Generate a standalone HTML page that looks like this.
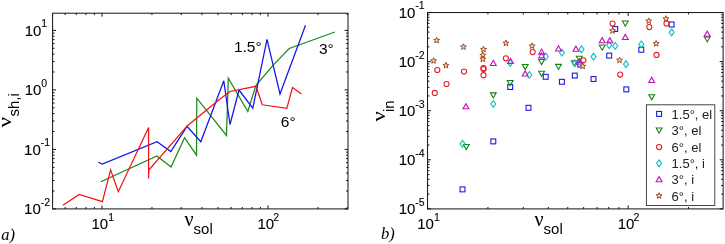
<!DOCTYPE html>
<html><head><meta charset="utf-8"><title>plot</title>
<style>html,body{margin:0;padding:0;background:#fff}svg{display:block}</style></head>
<body>
<svg width="725" height="244" viewBox="0 0 725 244">
<rect width="725" height="244" fill="#fff"/>
<polyline fill="none" stroke="#1a8a1a" stroke-width="1.25" stroke-linejoin="miter" points="100.8,181.8 157.0,156.0 171.0,167.0 184.6,137.7 196.5,155.2 196.8,98.2 226.5,135.5 228.3,78.3 247.8,111.5 256.0,85.4 273.0,65.4 289.2,48.5 334.9,32.0"/>
<polyline fill="none" stroke="#1414f0" stroke-width="1.25" stroke-linejoin="miter" points="98.3,162.2 102.3,164.0 157.0,141.7 170.8,151.5 187.0,126.3 200.8,141.7 223.8,80.8 230.0,124.5 239.0,90.0 252.8,108.2 267.0,39.4 280.0,94.0 305.5,25.3"/>
<polyline fill="none" stroke="#f01414" stroke-width="1.25" stroke-linejoin="miter" points="62.9,205.2 79.2,194.5 102.4,201.6 110.6,169.8 118.3,191.7 148.6,127.5 148.6,178.5 148.8,170.0 187.7,125.4 220.0,99.0 230.0,91.5 256.0,86.3 262.3,104.8 286.8,108.3 292.5,87.5 301.5,94.0"/>
<rect x="52.60" y="13.20" width="295.40" height="195.70" fill="none" stroke="#111" stroke-width="1"/>
<line x1="65.17" y1="208.90" x2="65.17" y2="207.00" stroke="#111" stroke-width="1"/>
<line x1="65.17" y1="13.20" x2="65.17" y2="15.10" stroke="#111" stroke-width="1"/>
<line x1="76.29" y1="208.90" x2="76.29" y2="207.00" stroke="#111" stroke-width="1"/>
<line x1="76.29" y1="13.20" x2="76.29" y2="15.10" stroke="#111" stroke-width="1"/>
<line x1="85.91" y1="208.90" x2="85.91" y2="207.00" stroke="#111" stroke-width="1"/>
<line x1="85.91" y1="13.20" x2="85.91" y2="15.10" stroke="#111" stroke-width="1"/>
<line x1="94.40" y1="208.90" x2="94.40" y2="207.00" stroke="#111" stroke-width="1"/>
<line x1="94.40" y1="13.20" x2="94.40" y2="15.10" stroke="#111" stroke-width="1"/>
<line x1="102.00" y1="208.90" x2="102.00" y2="205.50" stroke="#111" stroke-width="1"/>
<line x1="102.00" y1="13.20" x2="102.00" y2="16.60" stroke="#111" stroke-width="1"/>
<line x1="151.97" y1="208.90" x2="151.97" y2="207.00" stroke="#111" stroke-width="1"/>
<line x1="151.97" y1="13.20" x2="151.97" y2="15.10" stroke="#111" stroke-width="1"/>
<line x1="181.20" y1="208.90" x2="181.20" y2="207.00" stroke="#111" stroke-width="1"/>
<line x1="181.20" y1="13.20" x2="181.20" y2="15.10" stroke="#111" stroke-width="1"/>
<line x1="201.94" y1="208.90" x2="201.94" y2="207.00" stroke="#111" stroke-width="1"/>
<line x1="201.94" y1="13.20" x2="201.94" y2="15.10" stroke="#111" stroke-width="1"/>
<line x1="218.03" y1="208.90" x2="218.03" y2="207.00" stroke="#111" stroke-width="1"/>
<line x1="218.03" y1="13.20" x2="218.03" y2="15.10" stroke="#111" stroke-width="1"/>
<line x1="231.17" y1="208.90" x2="231.17" y2="207.00" stroke="#111" stroke-width="1"/>
<line x1="231.17" y1="13.20" x2="231.17" y2="15.10" stroke="#111" stroke-width="1"/>
<line x1="242.29" y1="208.90" x2="242.29" y2="207.00" stroke="#111" stroke-width="1"/>
<line x1="242.29" y1="13.20" x2="242.29" y2="15.10" stroke="#111" stroke-width="1"/>
<line x1="251.91" y1="208.90" x2="251.91" y2="207.00" stroke="#111" stroke-width="1"/>
<line x1="251.91" y1="13.20" x2="251.91" y2="15.10" stroke="#111" stroke-width="1"/>
<line x1="260.40" y1="208.90" x2="260.40" y2="207.00" stroke="#111" stroke-width="1"/>
<line x1="260.40" y1="13.20" x2="260.40" y2="15.10" stroke="#111" stroke-width="1"/>
<line x1="268.00" y1="208.90" x2="268.00" y2="205.50" stroke="#111" stroke-width="1"/>
<line x1="268.00" y1="13.20" x2="268.00" y2="16.60" stroke="#111" stroke-width="1"/>
<line x1="317.97" y1="208.90" x2="317.97" y2="207.00" stroke="#111" stroke-width="1"/>
<line x1="317.97" y1="13.20" x2="317.97" y2="15.10" stroke="#111" stroke-width="1"/>
<line x1="347.20" y1="208.90" x2="347.20" y2="207.00" stroke="#111" stroke-width="1"/>
<line x1="347.20" y1="13.20" x2="347.20" y2="15.10" stroke="#111" stroke-width="1"/>
<line x1="52.60" y1="208.90" x2="56.00" y2="208.90" stroke="#111" stroke-width="1"/>
<line x1="348.00" y1="208.90" x2="344.60" y2="208.90" stroke="#111" stroke-width="1"/>
<line x1="52.60" y1="190.99" x2="54.50" y2="190.99" stroke="#111" stroke-width="1"/>
<line x1="348.00" y1="190.99" x2="346.10" y2="190.99" stroke="#111" stroke-width="1"/>
<line x1="52.60" y1="180.51" x2="54.50" y2="180.51" stroke="#111" stroke-width="1"/>
<line x1="348.00" y1="180.51" x2="346.10" y2="180.51" stroke="#111" stroke-width="1"/>
<line x1="52.60" y1="173.08" x2="54.50" y2="173.08" stroke="#111" stroke-width="1"/>
<line x1="348.00" y1="173.08" x2="346.10" y2="173.08" stroke="#111" stroke-width="1"/>
<line x1="52.60" y1="167.31" x2="54.50" y2="167.31" stroke="#111" stroke-width="1"/>
<line x1="348.00" y1="167.31" x2="346.10" y2="167.31" stroke="#111" stroke-width="1"/>
<line x1="52.60" y1="162.60" x2="54.50" y2="162.60" stroke="#111" stroke-width="1"/>
<line x1="348.00" y1="162.60" x2="346.10" y2="162.60" stroke="#111" stroke-width="1"/>
<line x1="52.60" y1="158.62" x2="54.50" y2="158.62" stroke="#111" stroke-width="1"/>
<line x1="348.00" y1="158.62" x2="346.10" y2="158.62" stroke="#111" stroke-width="1"/>
<line x1="52.60" y1="155.17" x2="54.50" y2="155.17" stroke="#111" stroke-width="1"/>
<line x1="348.00" y1="155.17" x2="346.10" y2="155.17" stroke="#111" stroke-width="1"/>
<line x1="52.60" y1="152.12" x2="54.50" y2="152.12" stroke="#111" stroke-width="1"/>
<line x1="348.00" y1="152.12" x2="346.10" y2="152.12" stroke="#111" stroke-width="1"/>
<line x1="52.60" y1="149.40" x2="56.00" y2="149.40" stroke="#111" stroke-width="1"/>
<line x1="348.00" y1="149.40" x2="344.60" y2="149.40" stroke="#111" stroke-width="1"/>
<line x1="52.60" y1="131.49" x2="54.50" y2="131.49" stroke="#111" stroke-width="1"/>
<line x1="348.00" y1="131.49" x2="346.10" y2="131.49" stroke="#111" stroke-width="1"/>
<line x1="52.60" y1="121.01" x2="54.50" y2="121.01" stroke="#111" stroke-width="1"/>
<line x1="348.00" y1="121.01" x2="346.10" y2="121.01" stroke="#111" stroke-width="1"/>
<line x1="52.60" y1="113.58" x2="54.50" y2="113.58" stroke="#111" stroke-width="1"/>
<line x1="348.00" y1="113.58" x2="346.10" y2="113.58" stroke="#111" stroke-width="1"/>
<line x1="52.60" y1="107.81" x2="54.50" y2="107.81" stroke="#111" stroke-width="1"/>
<line x1="348.00" y1="107.81" x2="346.10" y2="107.81" stroke="#111" stroke-width="1"/>
<line x1="52.60" y1="103.10" x2="54.50" y2="103.10" stroke="#111" stroke-width="1"/>
<line x1="348.00" y1="103.10" x2="346.10" y2="103.10" stroke="#111" stroke-width="1"/>
<line x1="52.60" y1="99.12" x2="54.50" y2="99.12" stroke="#111" stroke-width="1"/>
<line x1="348.00" y1="99.12" x2="346.10" y2="99.12" stroke="#111" stroke-width="1"/>
<line x1="52.60" y1="95.67" x2="54.50" y2="95.67" stroke="#111" stroke-width="1"/>
<line x1="348.00" y1="95.67" x2="346.10" y2="95.67" stroke="#111" stroke-width="1"/>
<line x1="52.60" y1="92.62" x2="54.50" y2="92.62" stroke="#111" stroke-width="1"/>
<line x1="348.00" y1="92.62" x2="346.10" y2="92.62" stroke="#111" stroke-width="1"/>
<line x1="52.60" y1="89.90" x2="56.00" y2="89.90" stroke="#111" stroke-width="1"/>
<line x1="348.00" y1="89.90" x2="344.60" y2="89.90" stroke="#111" stroke-width="1"/>
<line x1="52.60" y1="71.99" x2="54.50" y2="71.99" stroke="#111" stroke-width="1"/>
<line x1="348.00" y1="71.99" x2="346.10" y2="71.99" stroke="#111" stroke-width="1"/>
<line x1="52.60" y1="61.51" x2="54.50" y2="61.51" stroke="#111" stroke-width="1"/>
<line x1="348.00" y1="61.51" x2="346.10" y2="61.51" stroke="#111" stroke-width="1"/>
<line x1="52.60" y1="54.08" x2="54.50" y2="54.08" stroke="#111" stroke-width="1"/>
<line x1="348.00" y1="54.08" x2="346.10" y2="54.08" stroke="#111" stroke-width="1"/>
<line x1="52.60" y1="48.31" x2="54.50" y2="48.31" stroke="#111" stroke-width="1"/>
<line x1="348.00" y1="48.31" x2="346.10" y2="48.31" stroke="#111" stroke-width="1"/>
<line x1="52.60" y1="43.60" x2="54.50" y2="43.60" stroke="#111" stroke-width="1"/>
<line x1="348.00" y1="43.60" x2="346.10" y2="43.60" stroke="#111" stroke-width="1"/>
<line x1="52.60" y1="39.62" x2="54.50" y2="39.62" stroke="#111" stroke-width="1"/>
<line x1="348.00" y1="39.62" x2="346.10" y2="39.62" stroke="#111" stroke-width="1"/>
<line x1="52.60" y1="36.17" x2="54.50" y2="36.17" stroke="#111" stroke-width="1"/>
<line x1="348.00" y1="36.17" x2="346.10" y2="36.17" stroke="#111" stroke-width="1"/>
<line x1="52.60" y1="33.12" x2="54.50" y2="33.12" stroke="#111" stroke-width="1"/>
<line x1="348.00" y1="33.12" x2="346.10" y2="33.12" stroke="#111" stroke-width="1"/>
<line x1="52.60" y1="30.40" x2="56.00" y2="30.40" stroke="#111" stroke-width="1"/>
<line x1="348.00" y1="30.40" x2="344.60" y2="30.40" stroke="#111" stroke-width="1"/>
<text x="47.20" y="35.60" font-family='"Liberation Sans", Arial, sans-serif' font-size="15" text-anchor="end" fill="#000" stroke="#000" stroke-width="0.1">10<tspan font-size="10.5" dy="-8.3">1</tspan></text>
<text x="47.20" y="95.10" font-family='"Liberation Sans", Arial, sans-serif' font-size="15" text-anchor="end" fill="#000" stroke="#000" stroke-width="0.1">10<tspan font-size="10.5" dy="-8.3">0</tspan></text>
<text x="50.10" y="154.60" font-family='"Liberation Sans", Arial, sans-serif' font-size="15" text-anchor="end" fill="#000" stroke="#000" stroke-width="0.1">10<tspan font-size="10.5" dy="-8.3">-1</tspan></text>
<text x="50.10" y="214.10" font-family='"Liberation Sans", Arial, sans-serif' font-size="15" text-anchor="end" fill="#000" stroke="#000" stroke-width="0.1">10<tspan font-size="10.5" dy="-8.3">-2</tspan></text>
<text x="91.50" y="229.10" font-family='"Liberation Sans", Arial, sans-serif' font-size="15" fill="#000" stroke="#000" stroke-width="0.1">10<tspan font-size="10.5" dy="-8.5" dx="0">1</tspan></text>
<text x="257.50" y="229.10" font-family='"Liberation Sans", Arial, sans-serif' font-size="15" fill="#000" stroke="#000" stroke-width="0.1">10<tspan font-size="10.5" dy="-8.5" dx="-0.9">2</tspan></text>
<text x="233.9" y="52.0" font-family='"Liberation Sans", Arial, sans-serif' font-size="15.5" fill="#000">1.5°</text>
<text x="318.9" y="53.8" font-family='"Liberation Sans", Arial, sans-serif' font-size="15.5" fill="#000">3°</text>
<text x="280.8" y="127.1" font-family='"Liberation Sans", Arial, sans-serif' font-size="15.5" fill="#000">6°</text>
<text x="184.5" y="225.5" font-family='"Liberation Serif", "Times New Roman", serif' font-size="20" fill="#000" stroke="#000" stroke-width="0.08">ν</text>
<text x="193.6" y="234.2" font-family='"Liberation Sans", Arial, sans-serif' font-size="15" fill="#000">sol</text>
<text x="534.5" y="225.5" font-family='"Liberation Serif", "Times New Roman", serif' font-size="20" fill="#000" stroke="#000" stroke-width="0.08">ν</text>
<text x="543.6" y="234.2" font-family='"Liberation Sans", Arial, sans-serif' font-size="15" fill="#000">sol</text>
<text transform="translate(10.5 127.2) rotate(-90) scale(1.12 0.97)" font-family='"Liberation Serif", "Times New Roman", serif' font-size="20" fill="#000" stroke="#000" stroke-width="0.08">ν</text>
<text x="18.8" y="116.6" transform="rotate(-90 18.8 116.6)" font-family='"Liberation Sans", Arial, sans-serif' font-size="15" fill="#000">sh,i</text>
<text transform="translate(384.7 121.5) rotate(-90) scale(1.12 0.97)" font-family='"Liberation Serif", "Times New Roman", serif' font-size="20" fill="#000" stroke="#000" stroke-width="0.08">ν</text>
<text x="393.8" y="112.0" transform="rotate(-90 393.8 112.0)" font-family='"Liberation Sans", Arial, sans-serif' font-size="15" fill="#000">in</text>
<text x="1.2" y="239.6" font-family='"Liberation Serif", "Times New Roman", serif' font-style="italic" font-size="16.5" fill="#000">a)</text>
<text x="380.9" y="239.0" font-family='"Liberation Serif", "Times New Roman", serif' font-style="italic" font-size="16.5" fill="#000">b)</text>
<rect x="427.55" y="12.55" width="295.55" height="196.35" fill="none" stroke="#111" stroke-width="1"/>
<line x1="427.55" y1="208.90" x2="427.55" y2="205.50" stroke="#111" stroke-width="1"/>
<line x1="427.55" y1="12.55" x2="427.55" y2="15.95" stroke="#111" stroke-width="1"/>
<line x1="487.94" y1="208.90" x2="487.94" y2="207.00" stroke="#111" stroke-width="1"/>
<line x1="487.94" y1="12.55" x2="487.94" y2="14.45" stroke="#111" stroke-width="1"/>
<line x1="523.26" y1="208.90" x2="523.26" y2="207.00" stroke="#111" stroke-width="1"/>
<line x1="523.26" y1="12.55" x2="523.26" y2="14.45" stroke="#111" stroke-width="1"/>
<line x1="548.32" y1="208.90" x2="548.32" y2="207.00" stroke="#111" stroke-width="1"/>
<line x1="548.32" y1="12.55" x2="548.32" y2="14.45" stroke="#111" stroke-width="1"/>
<line x1="567.76" y1="208.90" x2="567.76" y2="207.00" stroke="#111" stroke-width="1"/>
<line x1="567.76" y1="12.55" x2="567.76" y2="14.45" stroke="#111" stroke-width="1"/>
<line x1="583.65" y1="208.90" x2="583.65" y2="207.00" stroke="#111" stroke-width="1"/>
<line x1="583.65" y1="12.55" x2="583.65" y2="14.45" stroke="#111" stroke-width="1"/>
<line x1="597.08" y1="208.90" x2="597.08" y2="207.00" stroke="#111" stroke-width="1"/>
<line x1="597.08" y1="12.55" x2="597.08" y2="14.45" stroke="#111" stroke-width="1"/>
<line x1="608.71" y1="208.90" x2="608.71" y2="207.00" stroke="#111" stroke-width="1"/>
<line x1="608.71" y1="12.55" x2="608.71" y2="14.45" stroke="#111" stroke-width="1"/>
<line x1="618.97" y1="208.90" x2="618.97" y2="207.00" stroke="#111" stroke-width="1"/>
<line x1="618.97" y1="12.55" x2="618.97" y2="14.45" stroke="#111" stroke-width="1"/>
<line x1="628.15" y1="208.90" x2="628.15" y2="205.50" stroke="#111" stroke-width="1"/>
<line x1="628.15" y1="12.55" x2="628.15" y2="15.95" stroke="#111" stroke-width="1"/>
<line x1="688.54" y1="208.90" x2="688.54" y2="207.00" stroke="#111" stroke-width="1"/>
<line x1="688.54" y1="12.55" x2="688.54" y2="14.45" stroke="#111" stroke-width="1"/>
<line x1="427.55" y1="208.90" x2="430.95" y2="208.90" stroke="#111" stroke-width="1"/>
<line x1="723.10" y1="208.90" x2="719.70" y2="208.90" stroke="#111" stroke-width="1"/>
<line x1="427.55" y1="194.12" x2="429.45" y2="194.12" stroke="#111" stroke-width="1"/>
<line x1="723.10" y1="194.12" x2="721.20" y2="194.12" stroke="#111" stroke-width="1"/>
<line x1="427.55" y1="185.48" x2="429.45" y2="185.48" stroke="#111" stroke-width="1"/>
<line x1="723.10" y1="185.48" x2="721.20" y2="185.48" stroke="#111" stroke-width="1"/>
<line x1="427.55" y1="179.34" x2="429.45" y2="179.34" stroke="#111" stroke-width="1"/>
<line x1="723.10" y1="179.34" x2="721.20" y2="179.34" stroke="#111" stroke-width="1"/>
<line x1="427.55" y1="174.59" x2="429.45" y2="174.59" stroke="#111" stroke-width="1"/>
<line x1="723.10" y1="174.59" x2="721.20" y2="174.59" stroke="#111" stroke-width="1"/>
<line x1="427.55" y1="170.70" x2="429.45" y2="170.70" stroke="#111" stroke-width="1"/>
<line x1="723.10" y1="170.70" x2="721.20" y2="170.70" stroke="#111" stroke-width="1"/>
<line x1="427.55" y1="167.41" x2="429.45" y2="167.41" stroke="#111" stroke-width="1"/>
<line x1="723.10" y1="167.41" x2="721.20" y2="167.41" stroke="#111" stroke-width="1"/>
<line x1="427.55" y1="164.57" x2="429.45" y2="164.57" stroke="#111" stroke-width="1"/>
<line x1="723.10" y1="164.57" x2="721.20" y2="164.57" stroke="#111" stroke-width="1"/>
<line x1="427.55" y1="162.06" x2="429.45" y2="162.06" stroke="#111" stroke-width="1"/>
<line x1="723.10" y1="162.06" x2="721.20" y2="162.06" stroke="#111" stroke-width="1"/>
<line x1="427.55" y1="159.81" x2="430.95" y2="159.81" stroke="#111" stroke-width="1"/>
<line x1="723.10" y1="159.81" x2="719.70" y2="159.81" stroke="#111" stroke-width="1"/>
<line x1="427.55" y1="145.03" x2="429.45" y2="145.03" stroke="#111" stroke-width="1"/>
<line x1="723.10" y1="145.03" x2="721.20" y2="145.03" stroke="#111" stroke-width="1"/>
<line x1="427.55" y1="136.39" x2="429.45" y2="136.39" stroke="#111" stroke-width="1"/>
<line x1="723.10" y1="136.39" x2="721.20" y2="136.39" stroke="#111" stroke-width="1"/>
<line x1="427.55" y1="130.25" x2="429.45" y2="130.25" stroke="#111" stroke-width="1"/>
<line x1="723.10" y1="130.25" x2="721.20" y2="130.25" stroke="#111" stroke-width="1"/>
<line x1="427.55" y1="125.50" x2="429.45" y2="125.50" stroke="#111" stroke-width="1"/>
<line x1="723.10" y1="125.50" x2="721.20" y2="125.50" stroke="#111" stroke-width="1"/>
<line x1="427.55" y1="121.61" x2="429.45" y2="121.61" stroke="#111" stroke-width="1"/>
<line x1="723.10" y1="121.61" x2="721.20" y2="121.61" stroke="#111" stroke-width="1"/>
<line x1="427.55" y1="118.32" x2="429.45" y2="118.32" stroke="#111" stroke-width="1"/>
<line x1="723.10" y1="118.32" x2="721.20" y2="118.32" stroke="#111" stroke-width="1"/>
<line x1="427.55" y1="115.48" x2="429.45" y2="115.48" stroke="#111" stroke-width="1"/>
<line x1="723.10" y1="115.48" x2="721.20" y2="115.48" stroke="#111" stroke-width="1"/>
<line x1="427.55" y1="112.97" x2="429.45" y2="112.97" stroke="#111" stroke-width="1"/>
<line x1="723.10" y1="112.97" x2="721.20" y2="112.97" stroke="#111" stroke-width="1"/>
<line x1="427.55" y1="110.72" x2="430.95" y2="110.72" stroke="#111" stroke-width="1"/>
<line x1="723.10" y1="110.72" x2="719.70" y2="110.72" stroke="#111" stroke-width="1"/>
<line x1="427.55" y1="95.94" x2="429.45" y2="95.94" stroke="#111" stroke-width="1"/>
<line x1="723.10" y1="95.94" x2="721.20" y2="95.94" stroke="#111" stroke-width="1"/>
<line x1="427.55" y1="87.30" x2="429.45" y2="87.30" stroke="#111" stroke-width="1"/>
<line x1="723.10" y1="87.30" x2="721.20" y2="87.30" stroke="#111" stroke-width="1"/>
<line x1="427.55" y1="81.16" x2="429.45" y2="81.16" stroke="#111" stroke-width="1"/>
<line x1="723.10" y1="81.16" x2="721.20" y2="81.16" stroke="#111" stroke-width="1"/>
<line x1="427.55" y1="76.41" x2="429.45" y2="76.41" stroke="#111" stroke-width="1"/>
<line x1="723.10" y1="76.41" x2="721.20" y2="76.41" stroke="#111" stroke-width="1"/>
<line x1="427.55" y1="72.52" x2="429.45" y2="72.52" stroke="#111" stroke-width="1"/>
<line x1="723.10" y1="72.52" x2="721.20" y2="72.52" stroke="#111" stroke-width="1"/>
<line x1="427.55" y1="69.23" x2="429.45" y2="69.23" stroke="#111" stroke-width="1"/>
<line x1="723.10" y1="69.23" x2="721.20" y2="69.23" stroke="#111" stroke-width="1"/>
<line x1="427.55" y1="66.39" x2="429.45" y2="66.39" stroke="#111" stroke-width="1"/>
<line x1="723.10" y1="66.39" x2="721.20" y2="66.39" stroke="#111" stroke-width="1"/>
<line x1="427.55" y1="63.88" x2="429.45" y2="63.88" stroke="#111" stroke-width="1"/>
<line x1="723.10" y1="63.88" x2="721.20" y2="63.88" stroke="#111" stroke-width="1"/>
<line x1="427.55" y1="61.63" x2="430.95" y2="61.63" stroke="#111" stroke-width="1"/>
<line x1="723.10" y1="61.63" x2="719.70" y2="61.63" stroke="#111" stroke-width="1"/>
<line x1="427.55" y1="46.85" x2="429.45" y2="46.85" stroke="#111" stroke-width="1"/>
<line x1="723.10" y1="46.85" x2="721.20" y2="46.85" stroke="#111" stroke-width="1"/>
<line x1="427.55" y1="38.21" x2="429.45" y2="38.21" stroke="#111" stroke-width="1"/>
<line x1="723.10" y1="38.21" x2="721.20" y2="38.21" stroke="#111" stroke-width="1"/>
<line x1="427.55" y1="32.07" x2="429.45" y2="32.07" stroke="#111" stroke-width="1"/>
<line x1="723.10" y1="32.07" x2="721.20" y2="32.07" stroke="#111" stroke-width="1"/>
<line x1="427.55" y1="27.32" x2="429.45" y2="27.32" stroke="#111" stroke-width="1"/>
<line x1="723.10" y1="27.32" x2="721.20" y2="27.32" stroke="#111" stroke-width="1"/>
<line x1="427.55" y1="23.43" x2="429.45" y2="23.43" stroke="#111" stroke-width="1"/>
<line x1="723.10" y1="23.43" x2="721.20" y2="23.43" stroke="#111" stroke-width="1"/>
<line x1="427.55" y1="20.14" x2="429.45" y2="20.14" stroke="#111" stroke-width="1"/>
<line x1="723.10" y1="20.14" x2="721.20" y2="20.14" stroke="#111" stroke-width="1"/>
<line x1="427.55" y1="17.30" x2="429.45" y2="17.30" stroke="#111" stroke-width="1"/>
<line x1="723.10" y1="17.30" x2="721.20" y2="17.30" stroke="#111" stroke-width="1"/>
<line x1="427.55" y1="14.79" x2="429.45" y2="14.79" stroke="#111" stroke-width="1"/>
<line x1="723.10" y1="14.79" x2="721.20" y2="14.79" stroke="#111" stroke-width="1"/>
<line x1="427.55" y1="12.54" x2="430.95" y2="12.54" stroke="#111" stroke-width="1"/>
<line x1="723.10" y1="12.54" x2="719.70" y2="12.54" stroke="#111" stroke-width="1"/>
<text x="424.70" y="17.74" font-family='"Liberation Sans", Arial, sans-serif' font-size="15" text-anchor="end" fill="#000" stroke="#000" stroke-width="0.1">10<tspan font-size="10.5" dy="-8.3">-1</tspan></text>
<text x="424.70" y="66.83" font-family='"Liberation Sans", Arial, sans-serif' font-size="15" text-anchor="end" fill="#000" stroke="#000" stroke-width="0.1">10<tspan font-size="10.5" dy="-8.3">-2</tspan></text>
<text x="424.70" y="115.92" font-family='"Liberation Sans", Arial, sans-serif' font-size="15" text-anchor="end" fill="#000" stroke="#000" stroke-width="0.1">10<tspan font-size="10.5" dy="-8.3">-3</tspan></text>
<text x="424.70" y="165.01" font-family='"Liberation Sans", Arial, sans-serif' font-size="15" text-anchor="end" fill="#000" stroke="#000" stroke-width="0.1">10<tspan font-size="10.5" dy="-8.3">-4</tspan></text>
<text x="424.70" y="214.10" font-family='"Liberation Sans", Arial, sans-serif' font-size="15" text-anchor="end" fill="#000" stroke="#000" stroke-width="0.1">10<tspan font-size="10.5" dy="-8.3">-5</tspan></text>
<text x="417.25" y="229.10" font-family='"Liberation Sans", Arial, sans-serif' font-size="15" fill="#000" stroke="#000" stroke-width="0.1">10<tspan font-size="10.5" dy="-8.5" dx="0">1</tspan></text>
<text x="617.65" y="229.10" font-family='"Liberation Sans", Arial, sans-serif' font-size="15" fill="#000" stroke="#000" stroke-width="0.1">10<tspan font-size="10.5" dy="-8.5" dx="-0.9">2</tspan></text>
<rect x="460.05" y="186.95" width="4.9" height="4.9" fill="none" stroke="#1a1ae6" stroke-width="1.1"/>
<rect x="490.85" y="138.95" width="4.9" height="4.9" fill="none" stroke="#1a1ae6" stroke-width="1.1"/>
<rect x="507.75" y="84.55" width="4.9" height="4.9" fill="none" stroke="#1a1ae6" stroke-width="1.1"/>
<rect x="526.05" y="105.35" width="4.9" height="4.9" fill="none" stroke="#1a1ae6" stroke-width="1.1"/>
<rect x="543.25" y="74.35" width="4.9" height="4.9" fill="none" stroke="#1a1ae6" stroke-width="1.1"/>
<rect x="559.45" y="79.35" width="4.9" height="4.9" fill="none" stroke="#1a1ae6" stroke-width="1.1"/>
<rect x="572.35" y="73.15" width="4.9" height="4.9" fill="none" stroke="#1a1ae6" stroke-width="1.1"/>
<rect x="577.75" y="62.15" width="4.9" height="4.9" fill="none" stroke="#1a1ae6" stroke-width="1.1"/>
<rect x="591.05" y="76.55" width="4.9" height="4.9" fill="none" stroke="#1a1ae6" stroke-width="1.1"/>
<rect x="606.75" y="53.15" width="4.9" height="4.9" fill="none" stroke="#1a1ae6" stroke-width="1.1"/>
<rect x="612.75" y="26.55" width="4.9" height="4.9" fill="none" stroke="#1a1ae6" stroke-width="1.1"/>
<rect x="623.85" y="86.95" width="4.9" height="4.9" fill="none" stroke="#1a1ae6" stroke-width="1.1"/>
<rect x="638.85" y="47.35" width="4.9" height="4.9" fill="none" stroke="#1a1ae6" stroke-width="1.1"/>
<rect x="669.15" y="22.05" width="4.9" height="4.9" fill="none" stroke="#1a1ae6" stroke-width="1.1"/>
<path d="M463.40 144.45L469.20 144.45L466.30 149.55Z" fill="none" stroke="#148214" stroke-width="1.1"/>
<path d="M490.40 92.85L496.20 92.85L493.30 97.95Z" fill="none" stroke="#148214" stroke-width="1.1"/>
<path d="M507.30 80.45L513.10 80.45L510.20 85.55Z" fill="none" stroke="#148214" stroke-width="1.1"/>
<path d="M522.30 64.45L528.10 64.45L525.20 69.55Z" fill="none" stroke="#148214" stroke-width="1.1"/>
<path d="M538.70 59.45L544.50 59.45L541.60 64.55Z" fill="none" stroke="#148214" stroke-width="1.1"/>
<path d="M538.70 71.25L544.50 71.25L541.60 76.35Z" fill="none" stroke="#148214" stroke-width="1.1"/>
<path d="M555.60 64.35L561.40 64.35L558.50 69.45Z" fill="none" stroke="#148214" stroke-width="1.1"/>
<path d="M571.40 60.85L577.20 60.85L574.30 65.95Z" fill="none" stroke="#148214" stroke-width="1.1"/>
<path d="M576.40 56.25L582.20 56.25L579.30 61.35Z" fill="none" stroke="#148214" stroke-width="1.1"/>
<path d="M599.30 45.05L605.10 45.05L602.20 50.15Z" fill="none" stroke="#148214" stroke-width="1.1"/>
<path d="M622.40 21.05L628.20 21.05L625.30 26.15Z" fill="none" stroke="#148214" stroke-width="1.1"/>
<path d="M648.80 94.75L654.60 94.75L651.70 99.85Z" fill="none" stroke="#148214" stroke-width="1.1"/>
<path d="M704.30 36.85L710.10 36.85L707.20 41.95Z" fill="none" stroke="#148214" stroke-width="1.1"/>
<circle cx="434.80" cy="92.90" r="2.55" fill="none" stroke="#e8202c" stroke-width="1.1"/>
<circle cx="437.30" cy="70.00" r="2.55" fill="none" stroke="#e8202c" stroke-width="1.1"/>
<circle cx="446.50" cy="84.00" r="2.55" fill="none" stroke="#e8202c" stroke-width="1.1"/>
<circle cx="464.00" cy="71.50" r="2.55" fill="none" stroke="#e8202c" stroke-width="1.1"/>
<circle cx="483.50" cy="68.20" r="2.55" fill="none" stroke="#e8202c" stroke-width="1.1"/>
<circle cx="483.50" cy="68.90" r="2.55" fill="none" stroke="#e8202c" stroke-width="1.1"/>
<circle cx="483.50" cy="75.20" r="2.55" fill="none" stroke="#e8202c" stroke-width="1.1"/>
<circle cx="505.90" cy="58.30" r="2.55" fill="none" stroke="#e8202c" stroke-width="1.1"/>
<circle cx="532.70" cy="52.10" r="2.55" fill="none" stroke="#e8202c" stroke-width="1.1"/>
<circle cx="583.40" cy="60.30" r="2.55" fill="none" stroke="#e8202c" stroke-width="1.1"/>
<circle cx="612.50" cy="23.60" r="2.55" fill="none" stroke="#e8202c" stroke-width="1.1"/>
<circle cx="620.20" cy="74.60" r="2.55" fill="none" stroke="#e8202c" stroke-width="1.1"/>
<circle cx="649.30" cy="27.10" r="2.55" fill="none" stroke="#e8202c" stroke-width="1.1"/>
<circle cx="656.50" cy="54.90" r="2.55" fill="none" stroke="#e8202c" stroke-width="1.1"/>
<circle cx="666.50" cy="23.60" r="2.55" fill="none" stroke="#e8202c" stroke-width="1.1"/>
<path d="M462.50 140.40L465.00 143.80L462.50 147.20L460.00 143.80Z" fill="none" stroke="#10c0c0" stroke-width="1.1"/>
<path d="M493.30 100.60L495.80 104.00L493.30 107.40L490.80 104.00Z" fill="none" stroke="#10c0c0" stroke-width="1.1"/>
<path d="M510.20 59.50L512.70 62.90L510.20 66.30L507.70 62.90Z" fill="none" stroke="#10c0c0" stroke-width="1.1"/>
<path d="M529.30 71.60L531.80 75.00L529.30 78.40L526.80 75.00Z" fill="none" stroke="#10c0c0" stroke-width="1.1"/>
<path d="M545.70 53.20L548.20 56.60L545.70 60.00L543.20 56.60Z" fill="none" stroke="#10c0c0" stroke-width="1.1"/>
<path d="M561.90 49.20L564.40 52.60L561.90 56.00L559.40 52.60Z" fill="none" stroke="#10c0c0" stroke-width="1.1"/>
<path d="M574.80 59.90L577.30 63.30L574.80 66.70L572.30 63.30Z" fill="none" stroke="#10c0c0" stroke-width="1.1"/>
<path d="M581.50 45.90L584.00 49.30L581.50 52.70L579.00 49.30Z" fill="none" stroke="#10c0c0" stroke-width="1.1"/>
<path d="M593.50 53.30L596.00 56.70L593.50 60.10L591.00 56.70Z" fill="none" stroke="#10c0c0" stroke-width="1.1"/>
<path d="M609.20 41.70L611.70 45.10L609.20 48.50L606.70 45.10Z" fill="none" stroke="#10c0c0" stroke-width="1.1"/>
<path d="M615.20 42.60L617.70 46.00L615.20 49.40L612.70 46.00Z" fill="none" stroke="#10c0c0" stroke-width="1.1"/>
<path d="M626.00 60.80L628.50 64.20L626.00 67.60L623.50 64.20Z" fill="none" stroke="#10c0c0" stroke-width="1.1"/>
<path d="M641.30 41.00L643.80 44.40L641.30 47.80L638.80 44.40Z" fill="none" stroke="#10c0c0" stroke-width="1.1"/>
<path d="M671.60 28.90L674.10 32.30L671.60 35.70L669.10 32.30Z" fill="none" stroke="#10c0c0" stroke-width="1.1"/>
<path d="M463.00 108.75L468.80 108.75L465.90 103.65Z" fill="none" stroke="#c010c0" stroke-width="1.1"/>
<path d="M490.40 65.45L496.20 65.45L493.30 60.35Z" fill="none" stroke="#c010c0" stroke-width="1.1"/>
<path d="M507.60 63.35L513.40 63.35L510.50 58.25Z" fill="none" stroke="#c010c0" stroke-width="1.1"/>
<path d="M522.30 76.05L528.10 76.05L525.20 70.95Z" fill="none" stroke="#c010c0" stroke-width="1.1"/>
<path d="M538.70 54.15L544.50 54.15L541.60 49.05Z" fill="none" stroke="#c010c0" stroke-width="1.1"/>
<path d="M538.70 57.85L544.50 57.85L541.60 52.75Z" fill="none" stroke="#c010c0" stroke-width="1.1"/>
<path d="M555.60 50.95L561.40 50.95L558.50 45.85Z" fill="none" stroke="#c010c0" stroke-width="1.1"/>
<path d="M573.00 51.25L578.80 51.25L575.90 46.15Z" fill="none" stroke="#c010c0" stroke-width="1.1"/>
<path d="M576.40 64.05L582.20 64.05L579.30 58.95Z" fill="none" stroke="#c010c0" stroke-width="1.1"/>
<path d="M599.30 42.75L605.10 42.75L602.20 37.65Z" fill="none" stroke="#c010c0" stroke-width="1.1"/>
<path d="M606.90 42.75L612.70 42.75L609.80 37.65Z" fill="none" stroke="#c010c0" stroke-width="1.1"/>
<path d="M622.40 39.55L628.20 39.55L625.30 34.45Z" fill="none" stroke="#c010c0" stroke-width="1.1"/>
<path d="M648.80 82.55L654.60 82.55L651.70 77.45Z" fill="none" stroke="#c010c0" stroke-width="1.1"/>
<path d="M704.30 36.25L710.10 36.25L707.20 31.15Z" fill="none" stroke="#c010c0" stroke-width="1.1"/>
<polygon points="433.60,57.70 434.36,59.75 436.55,59.84 434.84,61.20 435.42,63.31 433.60,62.10 431.78,63.31 432.36,61.20 430.65,59.84 432.84,59.75" fill="#fbe3c8" stroke="#a0461a" stroke-width="1"/>
<polygon points="436.70,37.30 437.46,39.35 439.65,39.44 437.94,40.80 438.52,42.91 436.70,41.70 434.88,42.91 435.46,40.80 433.75,39.44 435.94,39.35" fill="#fbe3c8" stroke="#a0461a" stroke-width="1"/>
<polygon points="445.90,62.30 446.66,64.35 448.85,64.44 447.14,65.80 447.72,67.91 445.90,66.70 444.08,67.91 444.66,65.80 442.95,64.44 445.14,64.35" fill="#fbe3c8" stroke="#a0461a" stroke-width="1"/>
<polygon points="463.50,43.80 464.26,45.85 466.45,45.94 464.74,47.30 465.32,49.41 463.50,48.20 461.68,49.41 462.26,47.30 460.55,45.94 462.74,45.85" fill="#fbe3c8" stroke="#a0461a" stroke-width="1"/>
<polygon points="483.50,46.30 484.26,48.35 486.45,48.44 484.74,49.80 485.32,51.91 483.50,50.70 481.68,51.91 482.26,49.80 480.55,48.44 482.74,48.35" fill="#fbe3c8" stroke="#a0461a" stroke-width="1"/>
<polygon points="482.80,52.10 483.56,54.15 485.75,54.24 484.04,55.60 484.62,57.71 482.80,56.50 480.98,57.71 481.56,55.60 479.85,54.24 482.04,54.15" fill="#fbe3c8" stroke="#a0461a" stroke-width="1"/>
<polygon points="482.80,56.10 483.56,58.15 485.75,58.24 484.04,59.60 484.62,61.71 482.80,60.50 480.98,61.71 481.56,59.60 479.85,58.24 482.04,58.15" fill="#fbe3c8" stroke="#a0461a" stroke-width="1"/>
<polygon points="505.90,40.10 506.66,42.15 508.85,42.24 507.14,43.60 507.72,45.71 505.90,44.50 504.08,45.71 504.66,43.60 502.95,42.24 505.14,42.15" fill="#fbe3c8" stroke="#a0461a" stroke-width="1"/>
<polygon points="532.20,42.90 532.96,44.95 535.15,45.04 533.44,46.40 534.02,48.51 532.20,47.30 530.38,48.51 530.96,46.40 529.25,45.04 531.44,44.95" fill="#fbe3c8" stroke="#a0461a" stroke-width="1"/>
<polygon points="582.70,63.20 583.46,65.25 585.65,65.34 583.94,66.70 584.52,68.81 582.70,67.60 580.88,68.81 581.46,66.70 579.75,65.34 581.94,65.25" fill="#fbe3c8" stroke="#a0461a" stroke-width="1"/>
<polygon points="612.50,27.70 613.26,29.75 615.45,29.84 613.74,31.20 614.32,33.31 612.50,32.10 610.68,33.31 611.26,31.20 609.55,29.84 611.74,29.75" fill="#fbe3c8" stroke="#a0461a" stroke-width="1"/>
<polygon points="619.50,57.10 620.26,59.15 622.45,59.24 620.74,60.60 621.32,62.71 619.50,61.50 617.68,62.71 618.26,60.60 616.55,59.24 618.74,59.15" fill="#fbe3c8" stroke="#a0461a" stroke-width="1"/>
<polygon points="648.70,17.90 649.46,19.95 651.65,20.04 649.94,21.40 650.52,23.51 648.70,22.30 646.88,23.51 647.46,21.40 645.75,20.04 647.94,19.95" fill="#fbe3c8" stroke="#a0461a" stroke-width="1"/>
<polygon points="656.20,40.50 656.96,42.55 659.15,42.64 657.44,44.00 658.02,46.11 656.20,44.90 654.38,46.11 654.96,44.00 653.25,42.64 655.44,42.55" fill="#fbe3c8" stroke="#a0461a" stroke-width="1"/>
<polygon points="665.90,15.70 666.66,17.75 668.85,17.84 667.14,19.20 667.72,21.31 665.90,20.10 664.08,21.31 664.66,19.20 662.95,17.84 665.14,17.75" fill="#fbe3c8" stroke="#a0461a" stroke-width="1"/>
<rect x="646.4" y="104.8" width="68.4" height="100.7" fill="#fff" stroke="#333" stroke-width="0.9"/>
<rect x="656.65" y="111.45" width="4.9" height="4.9" fill="none" stroke="#1a1ae6" stroke-width="1.1"/>
<text x="671.6" y="118.70" font-family='"Liberation Sans", Arial, sans-serif' font-size="13" fill="#222">1.5°, el</text>
<path d="M656.20 128.05L662.00 128.05L659.10 133.15Z" fill="none" stroke="#148214" stroke-width="1.1"/>
<text x="671.6" y="135.40" font-family='"Liberation Sans", Arial, sans-serif' font-size="13" fill="#222">3°, el</text>
<circle cx="659.10" cy="147.10" r="2.55" fill="none" stroke="#e8202c" stroke-width="1.1"/>
<text x="671.6" y="151.90" font-family='"Liberation Sans", Arial, sans-serif' font-size="13" fill="#222">6°, el</text>
<path d="M659.10 159.90L661.60 163.30L659.10 166.70L656.60 163.30Z" fill="none" stroke="#10c0c0" stroke-width="1.1"/>
<text x="671.6" y="168.10" font-family='"Liberation Sans", Arial, sans-serif' font-size="13" fill="#222">1.5°, i</text>
<path d="M656.20 181.75L662.00 181.75L659.10 176.65Z" fill="none" stroke="#c010c0" stroke-width="1.1"/>
<text x="671.6" y="184.00" font-family='"Liberation Sans", Arial, sans-serif' font-size="13" fill="#222">3°, i</text>
<polygon points="659.10,192.70 659.86,194.75 662.05,194.84 660.34,196.20 660.92,198.31 659.10,197.10 657.28,198.31 657.86,196.20 656.15,194.84 658.34,194.75" fill="#fbe3c8" stroke="#a0461a" stroke-width="1"/>
<text x="671.6" y="200.60" font-family='"Liberation Sans", Arial, sans-serif' font-size="13" fill="#222">6°, i</text>
</svg>
</body></html>
